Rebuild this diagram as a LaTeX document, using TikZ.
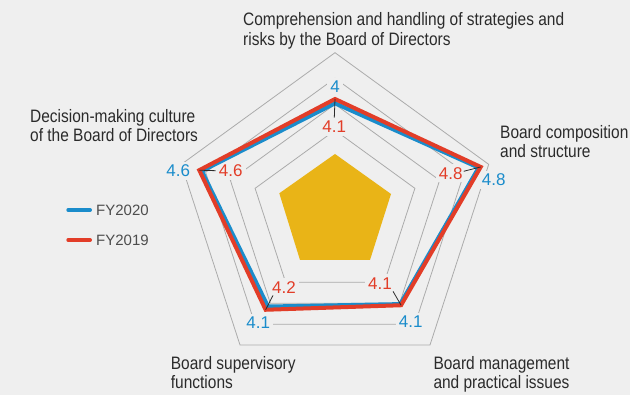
\documentclass[tikz,border=0pt]{standalone}
\usepackage{fontspec}
\setmainfont{Liberation Sans}
\newfontfamily\condfont[FakeStretch=0.86]{Liberation Sans}
\usetikzlibrary{calc}
\definecolor{bg}{HTML}{EFEFEF}
\definecolor{gridc}{HTML}{ABABAB}
\definecolor{blueL}{HTML}{1A8CCB}
\definecolor{redL}{HTML}{E23D28}
\definecolor{yel}{HTML}{E9B417}
\definecolor{txt}{HTML}{2B2B2B}
\definecolor{leg}{HTML}{4D4D4D}
\tikzset{
  gridline/.style={draw=gridc, line width=0.8pt},
  series/.style={line width=4pt, line join=miter},
  leader/.style={draw=txt, line width=0.8pt},
  val/.style={fill=bg, inner sep=3pt, font=\fontsize{17}{17}\selectfont},
  bval/.style={val, text=blueL},
  rval/.style={val, text=redL},
  cat/.style={anchor=base west, inner sep=0pt, text=txt, font=\condfont\fontsize{18}{19.5}\selectfont},
  legtext/.style={anchor=base west, inner sep=0pt, text=leg, font=\fontsize{15}{15}\selectfont},
  legline/.style={line width=4pt, line cap=round}
}
\begin{document}
\begin{tikzpicture}[x=1pt,y=-1pt]
\fill[bg] (0,0) rectangle (630,395);
\useasboundingbox (0,0) rectangle (630,395);
\coordinate (c) at (335,214.3);
% yellow core
\fill[yel] (335,154) -- (391,194) -- (370,260) -- (300,260) -- (279.3,193.3) -- cycle;
% grid rings
\foreach \r in {84,110,136,161.6}
  \draw[gridline] ($(c)+(-90:\r)$) -- ($(c)+(-18:\r)$) -- ($(c)+(54:\r)$) -- ($(c)+(126:\r)$) -- ($(c)+(198:\r)$) -- cycle;
% value labels (cut gaps in the grid)
\node[bval] (bT) at (335,86.7) {4};
\node[rval] (rT) at (334.3,126.7) {4.1};
\node[bval] (bL) at (178.3,170.7) {4.6};
\node[rval] (rL) at (230.7,170.7) {4.6};
\node[rval] (rR) at (450.7,173.3) {4.8};
\node[bval] (bR) at (493.8,180) {4.8};
\node[rval] (rBL) at (284,287.3) {4.2};
\node[bval] (bBL) at (258.3,322.7) {4.1};
\node[rval] (rBR) at (380,283.3) {4.1};
\node[bval] (bBR) at (410.7,321.7) {4.1};
% data points
\coordinate (b1) at ($(c)+(-90:111)$);
\coordinate (b2) at ($(c)+(-18:151)$);
\coordinate (b3) at ($(c)+(54:111)$);
\coordinate (b4) at ($(c)+(126:114)$);
\coordinate (b5) at ($(c)+(198:140)$);
\coordinate (r1) at ($(c)+(-90:115.3)$);
\coordinate (r2) at ($(c)+(-18:153.2)$);
\coordinate (r3) at ($(c)+(54:112.4)$);
\coordinate (r4) at ($(c)+(126:118)$);
\coordinate (r5) at ($(c)+(198:142.7)$);
\draw[series, blueL] (b1) -- (b2) -- (b3) -- (b4) -- (b5) -- cycle;
\draw[series, redL] (r1) -- (r2) -- (r3) -- (r4) -- (r5) -- cycle;
% leader lines
\draw[leader] (r1) -- (rT.north);
\draw[leader] (r5) -- (rL.west);
\draw[leader] (r2) -- ($(rR.east)+(-2,-2)$);
\draw[leader] (r4) -- ($(rBL.south west)+(4,-1)$);
\draw[leader] (r3) -- ($(rBR.south east)+(-2,-1)$);
% category labels
\node[cat] (t1) at (243,26) {\begin{tabular}[t]{@{}l@{}}Comprehension and handling of strategies and\\ risks by the Board of Directors\end{tabular}};
\node[cat] (t2) at (500,138.3) {\begin{tabular}[t]{@{}l@{}}Board composition\\ and structure\end{tabular}};
\node[cat] (t3) at (433.3,369.3) {\begin{tabular}[t]{@{}l@{}}Board management\\ and practical issues\end{tabular}};
\node[cat] (t4) at (170.7,369.3) {\begin{tabular}[t]{@{}l@{}}Board supervisory\\ functions\end{tabular}};
\node[cat] (t5) at (30,122.3) {\begin{tabular}[t]{@{}l@{}}Decision-making culture\\ of the Board of Directors\end{tabular}};
% legend
\coordinate (lb1) at (68.3,210);
\coordinate (lb2) at (90,210);
\coordinate (lr1) at (68.3,240);
\coordinate (lr2) at (90,240);
\draw[legline, blueL] (lb1) -- (lb2);
\draw[legline, redL] (lr1) -- (lr2);
\node[legtext] (l1) at (96,216) {FY2020};
\node[legtext] (l2) at (96,246) {FY2019};
\end{tikzpicture}
\end{document}
